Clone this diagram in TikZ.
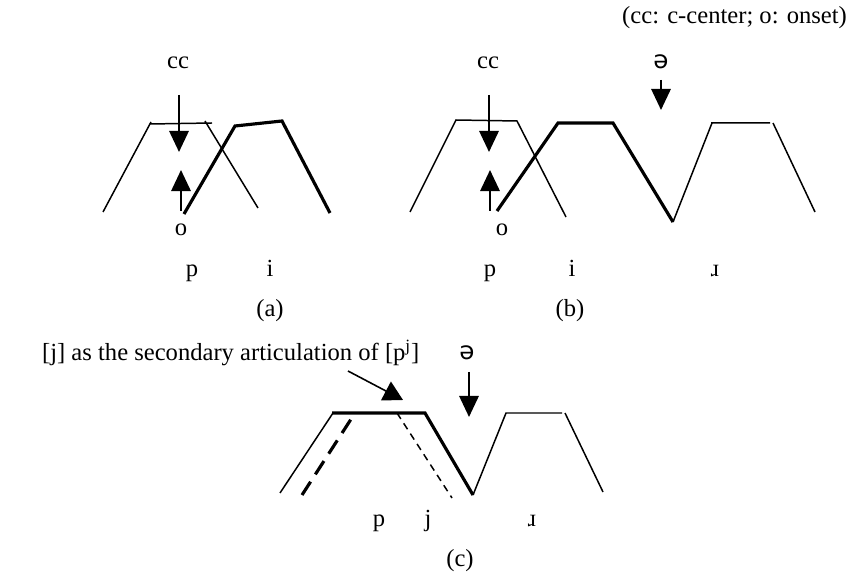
\documentclass[tikz,border=0pt]{standalone}
\usepackage{fontspec}
\setmainfont{Liberation Serif}
\newfontfamily\ipafont{DejaVu Sans}
\usetikzlibrary{arrows.meta}

\begin{document}
\begin{tikzpicture}[x=0.02cm, y=-0.02cm,
  every node/.style={font=\fontsize{14}{16}\selectfont, inner sep=1pt, anchor=base},
  thin gest/.style={line width=0.85pt},
  thick gest/.style={line width=1.8pt},
  arr/.style={-{Triangle[length=12pt,width=11pt]}, line width=1.3pt},
  ptr/.style={-{Triangle[length=11pt,width=12pt]}, line width=0.9pt},
]
\useasboundingbox (0,0) rectangle (854,573);

\node[anchor=base east] (note) at (849,24) {(cc: c-center; o: onset)};

% (a)
\node (cc_a)  at (178,69)  {cc};
\node (o_a)   at (181,236) {o};
\node (p_a)   at (192,277) {p};
\node (i_a)   at (270,277) {i};
\node (lab_a) at (270,317) {(a)};
\coordinate (cc_a_s) at (179,95);
\coordinate (cc_a_t) at (179,152);
\coordinate (o_a_s)  at (181,211);
\coordinate (o_a_t)  at (181,170);
\draw[thin gest] (103,212) -- (151,122) (150,124) -- (212,123) (205,121) -- (258,208);
\draw[thick gest] (184,214) -- (235,126) -- (282,121) -- (330,213);
\draw[arr] (cc_a_s) -- (cc_a_t);
\draw[arr] (o_a_s) -- (o_a_t);

% (b)
\node (cc_b)  at (488,69)  {cc};
\node (sw_b)  at (661,69)  {\ipafont ə};
\node (o_b)   at (502,236) {o};
\node (p_b)   at (490,277) {p};
\node (i_b)   at (572,277) {i};
\node (r_b)   at (715,277) {ɹ};
\node (lab_b) at (570,317) {(b)};
\coordinate (cc_b_s) at (489,95);
\coordinate (cc_b_t) at (489,152);
\coordinate (o_b_s)  at (490,211);
\coordinate (o_b_t)  at (490,170);
\coordinate (sw_b_s) at (661,80);
\coordinate (sw_b_t) at (661,110);
\draw[thin gest] (410,212) -- (456,120) -- (517,121) -- (566,217);
\draw[thick gest] (497,211) -- (558,123) -- (613,123) -- (673,222);
\draw[thin gest] (673,222) -- (712,123) (711,123) -- (770,123) (773,123) -- (815,212);
\draw[arr] (cc_b_s) -- (cc_b_t);
\draw[arr] (o_b_s) -- (o_b_t);
\draw[arr] (sw_b_s) -- (sw_b_t);

% (c)
\node[anchor=base west] (sec) at (40,361) {[j] as the secondary articulation of [p\textsuperscript{j}]};
\node (sw_c)  at (467,360) {\ipafont ə};
\node (p_c)   at (379,526) {p};
\node (j_c)   at (428,526) {j};
\node (r_c)   at (532,526) {ɹ};
\node (lab_c) at (460,566) {(c)};
\coordinate (sec_s)  at (348,371);
\coordinate (sec_t)  at (403,400);
\coordinate (sw_c_s) at (469,372);
\coordinate (sw_c_t) at (469,417);
\draw[thin gest] (280,493) -- (333,413);
\draw[thick gest] (332,413) -- (425,413) -- (473,495);
\draw[thick gest, dash pattern=on 9pt off 5pt] (302,495) -- (355,413);
\draw[thin gest, dash pattern=on 4pt off 3pt] (397,413) -- (452,498);
\draw[thin gest] (473,495) -- (506,413) -- (562,413) (565,413) -- (603,492);
\draw[ptr] (sec_s) -- (sec_t);
\draw[arr] (sw_c_s) -- (sw_c_t);
\end{tikzpicture}
\end{document}
